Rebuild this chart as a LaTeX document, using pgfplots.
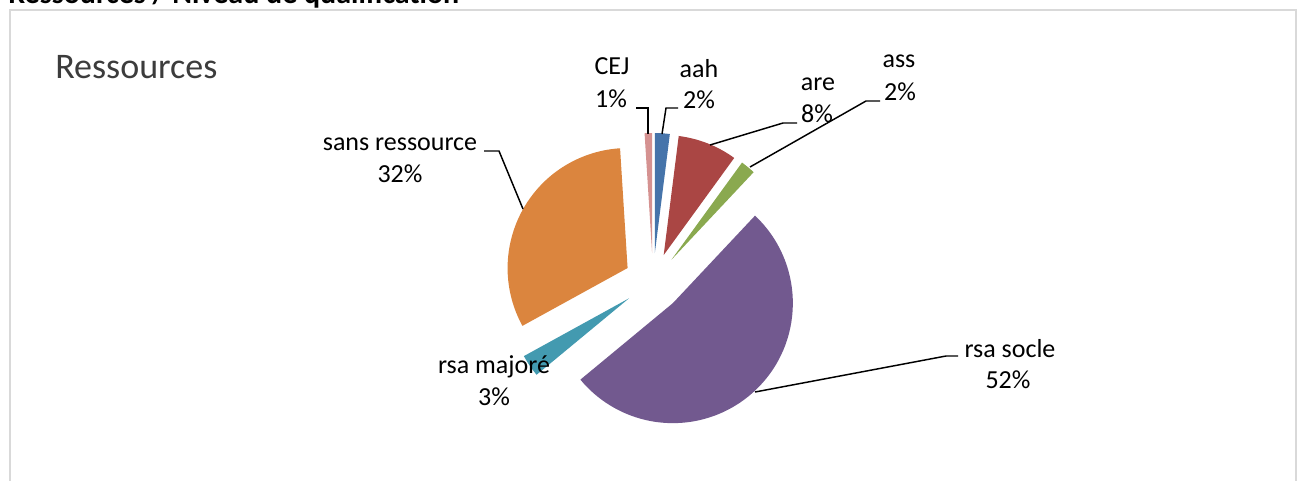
\documentclass[border=0pt]{standalone}
\usepackage{pgfplots}
\pgfplotsset{compat=1.18}
\usepackage{fontspec}
\setmainfont{Carlito}
\usetikzlibrary{calc}
\definecolor{cAah}{RGB}{70,116,170}
\definecolor{cAre}{RGB}{170,70,68}
\definecolor{cAss}{RGB}{138,169,79}
\definecolor{cSocle}{RGB}{114,89,143}
\definecolor{cMaj}{RGB}{67,154,176}
\definecolor{cSans}{RGB}{219,133,62}
\definecolor{cCej}{RGB}{213,146,145}
\definecolor{cBorder}{RGB}{217,217,217}
\definecolor{cTitle}{RGB}{60,60,60}
\tikzset{lbl/.style={font=\fontsize{19.5pt}{24pt}\selectfont, anchor=base, inner sep=0pt},
  lead/.style={black, line width=1.1pt}}
% slice: #1 cumulative percent before the slice, #2 percent, #3 colour
\newcommand\slice[3]{%
  \pgfplotsextra{%
    \pgfmathsetmacro\sa{90-3.6*#1}%
    \pgfmathsetmacro\ea{90-3.6*(#1+#2)}%
    \pgfmathsetmacro\ma{(\sa+\ea)/2}%
    \fill[#3] ($(axis cs:653,282)+(\ma:21.75pt)$) -- ++(\sa:90pt)
      arc[start angle=\sa, end angle=\ea, radius=90pt] -- cycle;
  }%
}
\begin{document}
\begin{tikzpicture}
\path[use as bounding box] (0,0) rectangle (973.5pt,-360.75pt);
\clip (0,0) rectangle (973.5pt,-360.75pt);
\begin{axis}[at={(0,0)}, anchor=north west, x=0.75pt, y=0.75pt, y dir=reverse,
  xmin=0, xmax=1298, ymin=0, ymax=481, hide axis, clip=false]
\addplot[draw=none] coordinates {(0,0) (1298,481)};
% frame
\draw[cBorder, line width=1.5pt] (axis cs:10,10) rectangle (axis cs:1296,520);
% header (cut off at the top, as in the reference)
\node[anchor=base west, inner sep=0pt, font=\fontsize{22.5pt}{24pt}\selectfont\bfseries] at (axis cs:8,3) {Ressources / Niveau de qualification};
% title
\node[anchor=base west, inner sep=0pt, text=cTitle, font=\fontsize{27pt}{30pt}\selectfont] at (axis cs:55,78) {Ressources};
% pie: aah 2, are 8, ass 2, rsa socle 52, rsa majore 3, sans ressource 32, CEJ 1
\slice{0}{2}{cAah}
\slice{2}{8}{cAre}
\slice{10}{2}{cAss}
\slice{12}{52}{cSocle}
\slice{64}{3}{cMaj}
\slice{67}{32}{cSans}
\slice{99}{1}{cCej}
% leader lines
\draw[lead] (axis cs:648,134) -- (axis cs:648,108) -- (axis cs:636,108);
\draw[lead] (axis cs:662,134) -- (axis cs:666,108) -- (axis cs:678,108);
\draw[lead] (axis cs:710,145) -- (axis cs:783,123) -- (axis cs:797,123);
\draw[lead] (axis cs:750,167) -- (axis cs:866,101) -- (axis cs:880,101);
\draw[lead] (axis cs:755,392) -- (axis cs:946,356) -- (axis cs:958,356);
\draw[lead] (axis cs:523,209) -- (axis cs:499,151) -- (axis cs:484,151);
% labels
\node[lbl] at (axis cs:612,74) {CEJ};
\node[lbl] at (axis cs:611,107) {1\%};
\node[lbl] at (axis cs:699,77) {aah};
\node[lbl] at (axis cs:699,108) {2\%};
\node[lbl] at (axis cs:818,90) {are};
\node[lbl] at (axis cs:817,122) {8\%};
\node[lbl] at (axis cs:899,67) {ass};
\node[lbl] at (axis cs:900,100) {2\%};
\node[lbl] at (axis cs:1010,357) {rsa socle};
\node[lbl] at (axis cs:1008,388) {52\%};
\node[lbl] at (axis cs:494,373) {rsa majoré};
\node[lbl] at (axis cs:494,405) {3\%};
\node[lbl] at (axis cs:400,150) {sans ressource};
\node[lbl] at (axis cs:400,182) {32\%};
\end{axis}
\end{tikzpicture}
\end{document}
